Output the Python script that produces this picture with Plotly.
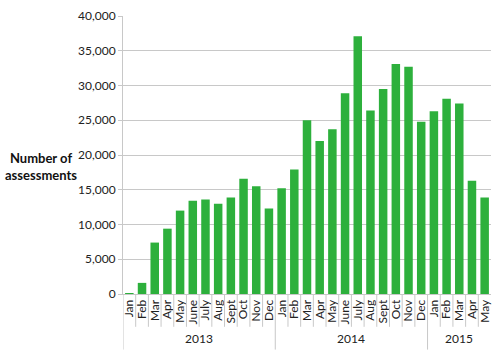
import plotly.graph_objects as go

months = ["Jan", "Feb", "Mar", "Apr", "May", "June", "July", "Aug", "Sept", "Oct", "Nov", "Dec",
          "Jan", "Feb", "Mar", "Apr", "May", "June", "July", "Aug", "Sept", "Oct", "Nov", "Dec",
          "Jan", "Feb", "Mar", "Apr", "May"]
years = ["2013"] * 12 + ["2014"] * 12 + ["2015"] * 5
assessments = [80, 1600, 7400, 9400, 12000, 13400, 13600, 13000, 13900, 16600, 15500, 12300,
               15200, 17900, 25000, 22000, 23700, 28900, 37100, 26400, 29500, 33100, 32700, 24800,
               26300, 28100, 27400, 16300, 13900]
y_ticks = [0, 5000, 10000, 15000, 20000, 25000, 30000, 35000, 40000]

idx = list(range(len(months)))
FONT = "Lato, Open Sans, sans-serif"
GRID = "#c8c8c8"

fig = go.Figure(go.Bar(x=idx, y=assessments, marker_color="#2DB03C", width=0.67,
                       marker_line_width=0))

shapes = []
annotations = []
for i in range(len(months)):
    if i == 0:
        shapes.append(dict(type="line", xref="x", yref="paper", x0=-0.5, x1=-0.5,
                           y0=0, y1=-0.2, line=dict(color=GRID, width=1)))
        continue
    new_year = years[i] != years[i - 1]
    shapes.append(dict(type="line", xref="x", yref="paper", x0=i - 0.5, x1=i - 0.5,
                       y0=0, y1=-0.2 if new_year else -0.118, line=dict(color=GRID, width=1)))

for y in dict.fromkeys(years):
    pos = [i for i, v in enumerate(years) if v == y]
    annotations.append(dict(x=(pos[0] + pos[-1]) / 2, y=-0.16, xref="x", yref="paper",
                            text=y, showarrow=False, font=dict(family=FONT, size=12, color="#222"),
                            yanchor="middle"))

annotations.append(dict(x=-0.222, y=0.459, xref="paper", yref="paper",
                        text="<b>Number of<br>assessments</b>", showarrow=False,
                        align="center", font=dict(family=FONT, size=13, color="#111"),
                        xanchor="center", yanchor="middle"))

fig.update_layout(
    width=500, height=354,
    margin=dict(l=123, r=8, t=13, b=60),
    plot_bgcolor="white", paper_bgcolor="white",
    showlegend=False,
    shapes=shapes,
    annotations=annotations,
    xaxis=dict(range=[-0.5, 28.5], tickmode="array", tickvals=idx, ticktext=months,
               tickangle=-90, showgrid=False, ticks="", showline=True, linecolor=GRID,
               tickfont=dict(family=FONT, size=12, color="#222"), fixedrange=True),
    yaxis=dict(range=[0, 40000], tickmode="array", tickvals=y_ticks, tickformat=",",
               showgrid=True, gridcolor=GRID, gridwidth=1, showline=True, linecolor=GRID,
               ticks="outside", ticklen=4, tickcolor=GRID, zeroline=False,
               tickfont=dict(family=FONT, size=12, color="#222")),
    font=dict(family=FONT),
)

fig.write_html("out.html")
